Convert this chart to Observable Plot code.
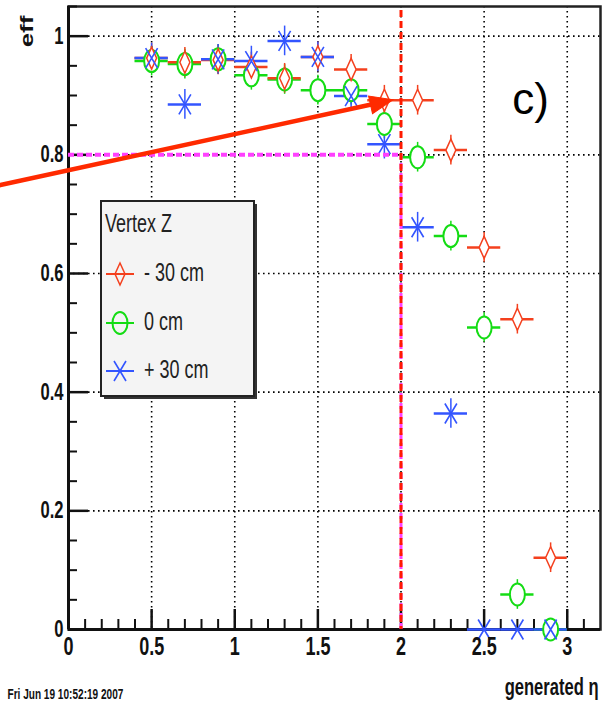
<!DOCTYPE html>
<html><head><meta charset="utf-8">
<script src="https://cdn.jsdelivr.net/npm/d3@7"></script>
<script src="https://cdn.jsdelivr.net/npm/@observablehq/plot@0.6"></script>
<style>
body{margin:0;background:#fff;}
#chart{position:relative;width:604px;height:705px;}
</style></head><body><div id="chart"></div>
<script>
// ---------- data ----------
const etaBins    = [0.5, 0.7, 0.9, 1.1, 1.3, 1.5, 1.7, 1.9, 2.1, 2.3, 2.5, 2.7, 2.9];
const effMinus30 = [0.963, 0.956, 0.960, 0.948, 0.929, 0.965, 0.944, 0.892, 0.892, 0.808, 0.644, 0.523, 0.121];
const effZero    = [0.958, 0.953, 0.961, 0.934, 0.927, 0.909, 0.909, 0.852, 0.796, 0.663, 0.509, 0.059, 0.000];
const effPlus30  = [0.963, 0.885, 0.961, 0.958, 0.992, 0.965, 0.899, 0.818, 0.678, 0.364, 0.000, 0.000, 0.000];
const binHalfWidth = 0.1;
const effErr = 0.025;
const seriesNames = ["- 30 cm", "0 cm", "+ 30 cm"];
const legendTitle = "Vertex Z";
const xTicksMajor = [0, 0.5, 1, 1.5, 2, 2.5, 3];
const yTicksMajor = [0, 0.2, 0.4, 0.6, 0.8, 1];
const cutEff = [0.8];
const cutEta = [2];
const arrowFrom = [-0.41, 0.749];
const arrowTo = [1.94, 0.892];
const panelLabel = "c)";
const xTitle = "generated η";
const yTitle = "eff";
const dateText = "Fri Jun 19 10:52:19 2007";

// ---------- style ----------
const FONT = "'Liberation Sans',Arial,Helvetica,sans-serif";
const SQ = 0.72; // horizontal squeeze of the original picture's text
const RED = "#f4401e", GREEN = "#14dc14", BLUE = "#3355ff", MAG = "#ff40ff", ARROW = "#ff2a00";
const W = 604, H = 705, ML = 68, MR = 4, MT = 6, MB = 76;
const PW = W - ML - MR, PH = H - MT - MB;

const xMinor = d3.range(1, 32).map(i => i / 10).filter(d => Math.round(d * 10) % 5 !== 0);
const yMinor = d3.range(1, 22).map(i => i / 20).filter(d => Math.round(d * 20) % 4 !== 0);

const ellipseSym = {draw(c) { const rx = 7.5, ry = 11, k = 0.5523;
  c.moveTo(rx, 0); c.bezierCurveTo(rx, ry * k, rx * k, ry, 0, ry);
  c.bezierCurveTo(-rx * k, ry, -rx, ry * k, -rx, 0);
  c.bezierCurveTo(-rx, -ry * k, -rx * k, -ry, 0, -ry);
  c.bezierCurveTo(rx * k, -ry, rx, -ry * k, rx, 0); c.closePath(); }};
const diamondSym = {draw(c) { c.moveTo(0, -11); c.lineTo(5, 0); c.lineTo(0, 11); c.lineTo(-5, 0); c.closePath(); }};
const crossSym = {draw(c) { c.moveTo(-6, -10); c.lineTo(6, 10); c.moveTo(-6, 10); c.lineTo(6, -10); }};
const headSym = {draw(c) { c.moveTo(2, 0); c.lineTo(-21, -9); c.lineTo(-21, 9); c.closePath(); }};

const series = [
  {name: seriesNames[0], vals: effMinus30, color: RED, sym: diamondSym, fill: "white", sw: 1.5},
  {name: seriesNames[1], vals: effZero, color: GREEN, sym: ellipseSym, fill: "white", sw: 2},
  {name: seriesNames[2], vals: effPlus30, color: BLUE, sym: crossSym, fill: "none", sw: 1.6}
];
const rows = s => etaBins.map((x, i) => ({x, y: s.vals[i]}));
const drawOrder = [series[1], series[0], series[2]];

const errMarks = [];
for (const s of drawOrder) {
  const r = rows(s);
  errMarks.push(Plot.ruleX(r.filter(d => d.y > 0), {x: "x", y1: d => d.y - effErr, y2: d => d.y + effErr, stroke: s.color, strokeWidth: 1.5}));
  errMarks.push(Plot.ruleY(r, {y: "y", x1: d => d.x - binHalfWidth, x2: d => d.x + binHalfWidth, stroke: s.color, strokeWidth: 2.5}));
}
const dotMarks = drawOrder.map(s => Plot.dot(rows(s), {x: "x", y: "y", symbol: s.sym, r: 5, stroke: s.color, fill: s.fill, strokeWidth: s.sw}));

const svg = Plot.plot({
  width: W, height: H, marginLeft: ML, marginRight: MR, marginTop: MT, marginBottom: MB,
  x: {domain: [0, 3.2], label: null},
  y: {domain: [0, 1.05], label: null},
  style: {fontFamily: FONT, background: "#fff", overflow: "visible"},
  marks: [
    Plot.ruleX(xTicksMajor.filter(d => d > 0), {stroke: "#000", strokeWidth: 1.6, strokeDasharray: "1.6,3.4"}),
    Plot.ruleY(yTicksMajor.filter(d => d > 0), {stroke: "#000", strokeWidth: 1.6, strokeDasharray: "1.6,3.4"}),
    Plot.frame({stroke: "#222", strokeWidth: 2.5}),
    Plot.ruleY(yTicksMajor, {insetRight: PW - 20, stroke: "#111", strokeWidth: 2.5}),
    Plot.ruleY(yMinor, {insetRight: PW - 9, stroke: "#111", strokeWidth: 2}),
    Plot.ruleX(xTicksMajor, {insetTop: PH - 20, stroke: "#111", strokeWidth: 2.5}),
    Plot.ruleX(xMinor, {insetTop: PH - 10, stroke: "#111", strokeWidth: 2}),
    Plot.ruleX([0], {stroke: "#111", strokeWidth: 3}),
    Plot.ruleY([0], {stroke: "#111", strokeWidth: 3}),
    ...errMarks,
    ...dotMarks,
    Plot.ruleY(cutEff, {x1: 0, x2: cutEta[0], stroke: MAG, strokeWidth: 4, strokeDasharray: "6,3"}),
    Plot.ruleX(cutEta, {y1: 0, y2: cutEff[0], stroke: MAG, strokeWidth: 3, strokeDasharray: "6,4"}),
    Plot.ruleX(cutEta, {y1: 0, y2: 1.05, stroke: "#ff1a00", strokeWidth: 3, strokeDasharray: "7,4", strokeDashoffset: 4}),
    Plot.arrow([{a: arrowFrom, b: arrowTo}], {x1: d => d.a[0], y1: d => d.a[1], x2: d => d.b[0], y2: d => d.b[1],
      stroke: ARROW, strokeWidth: 4.5, headLength: 0, insetEnd: 12}),
    Plot.dot([arrowTo], {x: d => d[0], y: d => d[1], symbol: headSym, r: 5, fill: ARROW, stroke: ARROW, strokeWidth: 1, rotate: -12.7}),
    Plot.axisX({ticks: xTicksMajor, tickSize: 0, tickPadding: 8, tickFormat: d => String(d),
      fontSize: 25, fontWeight: "bold", fill: "#111"}),
    Plot.axisY({ticks: yTicksMajor, tickSize: 0, tickPadding: 5, tickFormat: d => String(d),
      fontSize: 23, fontWeight: "bold", fill: "#111"}),
    Plot.text([yTitle], {frameAnchor: "top-left", textAnchor: "middle", lineAnchor: "middle", dx: -41, dy: 25, rotate: -90, fontSize: 26, fontWeight: "bold", fill: "#111"}),
    Plot.text([panelLabel], {frameAnchor: "top-right", textAnchor: "middle", lineAnchor: "middle", dx: -70, dy: 93, fontSize: 44, fill: "#000"}),
    Plot.text([xTitle], {frameAnchor: "bottom-right", textAnchor: "end", lineAnchor: "middle", dx: -2, dy: 58.5, fontSize: 23, fontWeight: "bold", fill: "#111"}),
    Plot.text([dateText], {frameAnchor: "bottom-left", textAnchor: "start", lineAnchor: "middle", dx: -61, dy: 65.5, fontSize: 14, fontWeight: "bold", fill: "#111"})
  ]
});
document.getElementById("chart").appendChild(svg);

// squeeze texts horizontally like the original picture (except the panel label)
d3.select(svg).selectAll("text").each(function() {
  const t = d3.select(this);
  if (t.text() === panelLabel) return;
  const tr = t.attr("transform") || "";
  if (/rotate/.test(tr)) { t.attr("transform", tr.replace(/rotate/, `scale(${SQ},1) rotate`)); return; }
  const xa = t.attr("x");
  let pre = "";
  if (xa != null && /^-?[\d.]+$/.test(xa.trim())) { pre = ` translate(${xa},0)`; t.attr("x", null); }
  t.attr("transform", `${tr}${pre} scale(${SQ},1)`);
});

// ---------- legend ----------
const g = d3.select(svg).append("g");
g.append("rect").attr("x", 104).attr("y", 204).attr("width", 153).attr("height", 195).attr("fill", "#333");
g.append("rect").attr("x", 101).attr("y", 201).attr("width", 153).attr("height", 195)
  .attr("fill", "#f4f4f4").attr("stroke", "#222").attr("stroke-width", 2);
const legText = (x, y, s) => g.append("text").attr("transform", `translate(${x},${y}) scale(${SQ},1)`)
  .attr("text-anchor", "start").attr("dominant-baseline", "middle")
  .attr("font-family", FONT).attr("font-size", 25).attr("fill", "#222").text(s);
legText(105, 225, legendTitle);
const legendY = [274, 323, 371];
series.forEach((s, i) => {
  const y = legendY[i];
  g.append("line").attr("x1", 106).attr("x2", 134).attr("y1", y).attr("y2", y)
    .attr("stroke", s.color).attr("stroke-width", 2);
  g.append("path").attr("d", d3.symbol(s.sym)()).attr("transform", `translate(120,${y})`)
    .attr("fill", "none").attr("stroke", s.color).attr("stroke-width", s.sw);
  legText(144, y, s.name);
});
</script></body></html>
